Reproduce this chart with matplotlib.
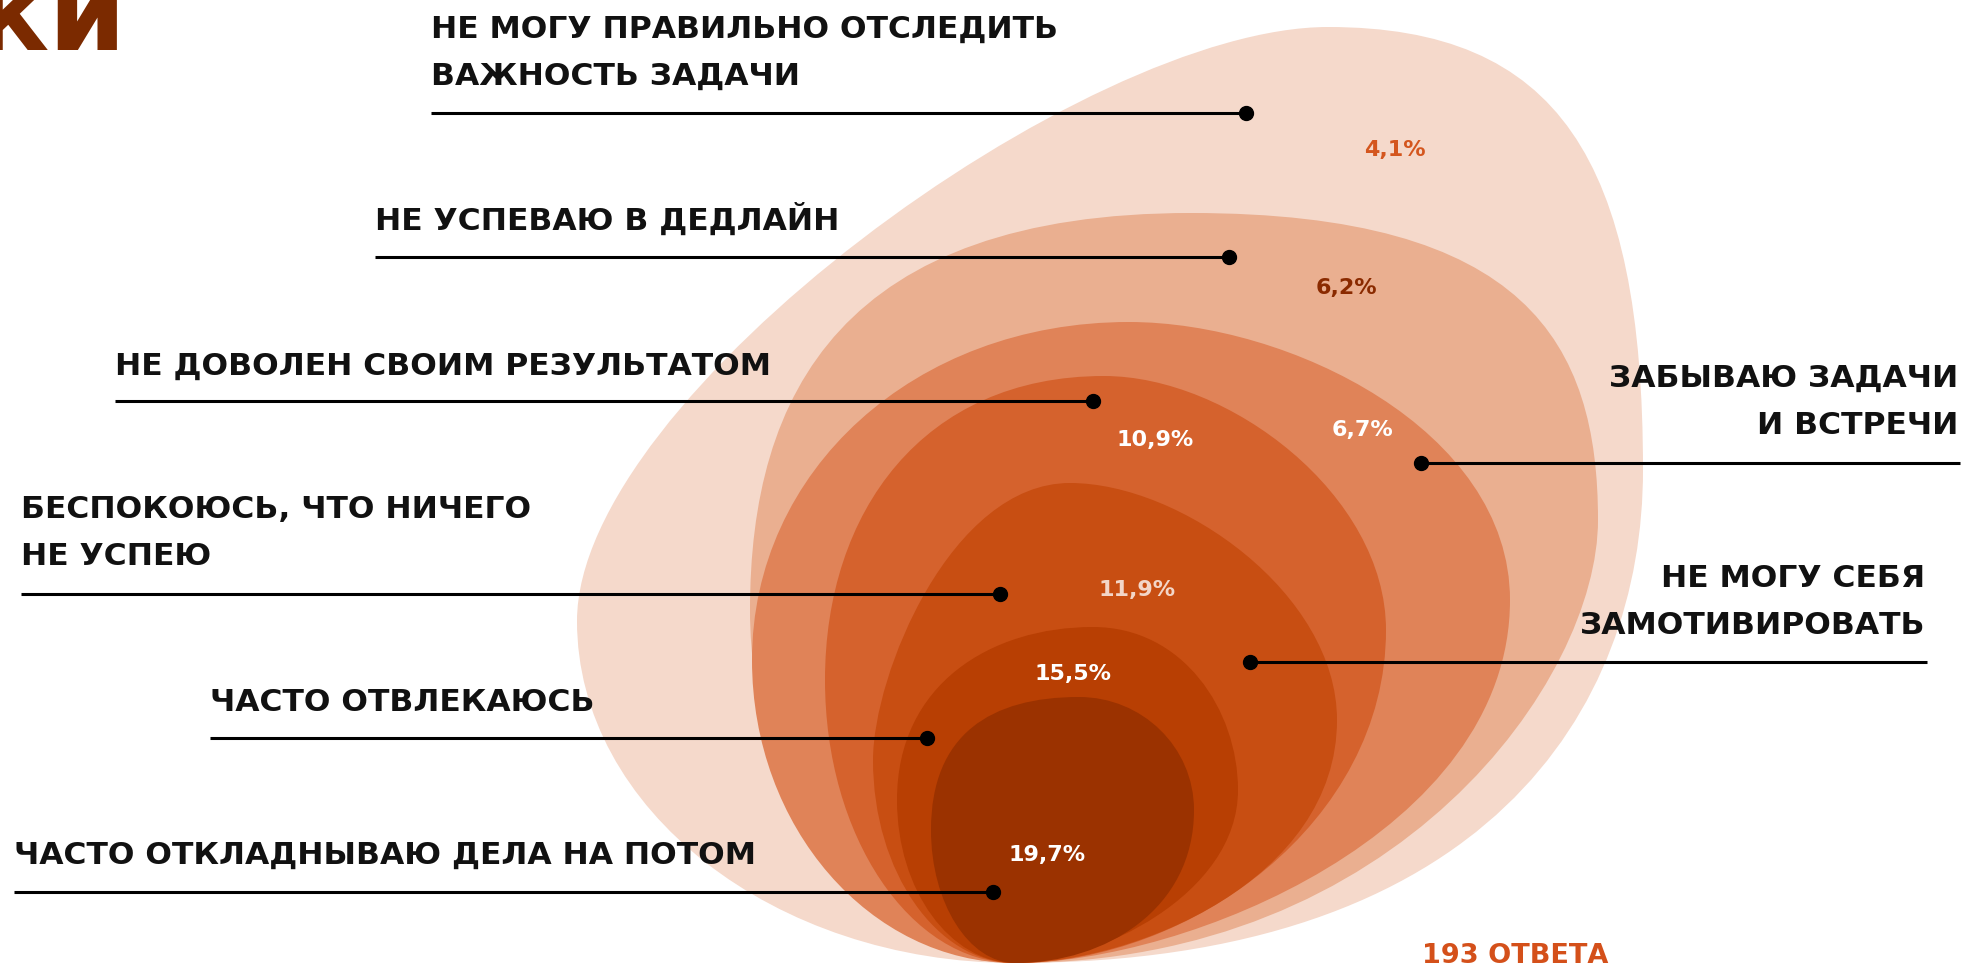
import matplotlib.pyplot as plt
from matplotlib.path import Path
from matplotlib.patches import PathPatch

plt.rcParams['font.family'] = ['DejaVu Sans']

# survey answers (percent of 193 responses)
percents = [4.1, 6.2, 6.7, 10.9, 11.9, 15.5, 19.7]
blob_colors = ['#F5D9CB', '#EAAF90', '#E08358', '#D5622D', '#C84E12', '#B83F03', '#9B3200']
pct_colors = ['#D4561E', '#8A2A00', 'white', 'white', '#F3D6C8', 'white', 'white']
pct_pos = [(1395, 150), (1346, 288), (1362, 430), (1155, 440), (1137, 590), (1073, 674), (1047, 855)]

labels_left = [
    'НЕ МОГУ ПРАВИЛЬНО ОТСЛЕДИТЬ\nВАЖНОСТЬ ЗАДАЧИ',
    'НЕ УСПЕВАЮ В ДЕДЛАЙН',
    'НЕ ДОВОЛЕН СВОИМ РЕЗУЛЬТАТОМ',
    'БЕСПОКОЮСЬ, ЧТО НИЧЕГО\nНЕ УСПЕЮ',
    'ЧАСТО ОТВЛЕКАЮСЬ',
    'ЧАСТО ОТКЛАДНЫВАЮ ДЕЛА НА ПОТОМ',
]
labels_right = [
    'ЗАБЫВАЮ ЗАДАЧИ\nИ ВСТРЕЧИ',
    'НЕ МОГУ СЕБЯ\nЗАМОТИВИРОВАТЬ',
]
total = 193

# layout (pixel coords of the 1967x968 canvas)
left_x = [431, 375, 115, 21, 210, 14]
left_base = [38, 230, 375, 518, 711, 864]
left_line_y = [113, 257, 401, 594, 738, 892]
left_dot_x = [1246, 1229, 1093, 1000, 927, 993]

right_x = [1958, 1925]
right_base = [387, 587]
right_line_y = [463, 662]
right_dot_x = [1421, 1250]

# blob outlines: bottom, left, top, right anchors
# handles: bottom-left, left-down, left-up, top-left, top-right, right-up, right-down, bottom-right
tip = (1015, 963)
blob_left = [(577, 621), (750, 610), (752, 660), (825, 680), (873, 760), (897, 800), (931, 830)]
blob_top = [(1328, 27), (1191, 213), (1129, 322), (1104, 376), (1070, 483), (1093, 627), (1079, 697)]
blob_right = [(1643, 470), (1598, 520), (1510, 600), (1386, 630), (1337, 720), (1238, 790), (1194, 810)]
blob_handles = [
    (241, 188, 224, 245, 230, 310, 240, 470),
    (146, 194, 217, 348, 335, 177, 160, 383),
    (145, 167, 189, 215, 160, 170, 232, 171),
    (105, 156, 168, 181, 125, 135, 193, 175),
    (78, 112, 85, 119, 111, 126, 160, 120),
    (65, 90, 116, 102, 90, 80, 105, 81),
    (46, 73, 96, 88, 63, 63, 99, 91),
]


def blob_path(b, l, t, r, h):
    bl, ld, lu, tl, tr, ru, rd, br = h
    verts = [b,
             (b[0] - bl, b[1]), (l[0], l[1] + ld), l,
             (l[0], l[1] - lu), (t[0] - tl, t[1]), t,
             (t[0] + tr, t[1]), (r[0], r[1] - ru), r,
             (r[0], r[1] + rd), (b[0] + br, b[1]), b,
             b]
    codes = [Path.MOVETO] + [Path.CURVE4] * 12 + [Path.CLOSEPOLY]
    return Path(verts, codes)


fig = plt.figure(figsize=(19.67, 9.68), dpi=100)
ax = fig.add_axes([0, 0, 1, 1])
ax.set_xlim(0, 1967)
ax.set_ylim(968, 0)
ax.axis('off')

for l, t, r, h, c in zip(blob_left, blob_top, blob_right, blob_handles, blob_colors):
    ax.add_patch(PathPatch(blob_path(tip, l, t, r, h), facecolor=c, lw=0, zorder=1))

for v, c, (x, y) in zip(percents, pct_colors, pct_pos):
    ax.text(x, y, f'{v:.1f}%'.replace('.', ','), color=c, fontsize=16, fontweight='bold',
            ha='center', va='center', zorder=4)

fs = 22.6
for lab, x, yb, ly, dx in zip(labels_left, left_x, left_base, left_line_y, left_dot_x):
    for k, line in enumerate(lab.split('\n')):
        ax.text(x, yb + 47 * k, line, fontsize=fs, fontweight='bold', color='#111111',
                ha='left', va='baseline', zorder=5)
    ax.plot([x, dx], [ly, ly], color='black', lw=2.2, zorder=3, solid_capstyle='butt')
    ax.plot(dx, ly, 'o', color='black', ms=10, zorder=3)

for lab, x, yb, ly, dx in zip(labels_right, right_x, right_base, right_line_y, right_dot_x):
    for k, line in enumerate(lab.split('\n')):
        ax.text(x, yb + 47 * k, line, fontsize=fs, fontweight='bold', color='#111111',
                ha='right', va='baseline', zorder=5)
    ax.plot([dx, x + 2], [ly, ly], color='black', lw=2.2, zorder=3, solid_capstyle='butt')
    ax.plot(dx, ly, 'o', color='black', ms=10, zorder=3)

ax.text(1422, 963, f'{total} ОТВЕТА', fontsize=19.5, fontweight='bold', color='#D4501A',
        ha='left', va='baseline', zorder=5)

# cropped heading from the slide
ax.text(127, 50, 'ки', fontsize=80, fontweight='bold', color='#7B2A00',
        ha='right', va='baseline', zorder=5)

fig.savefig('out.png', dpi=100)
